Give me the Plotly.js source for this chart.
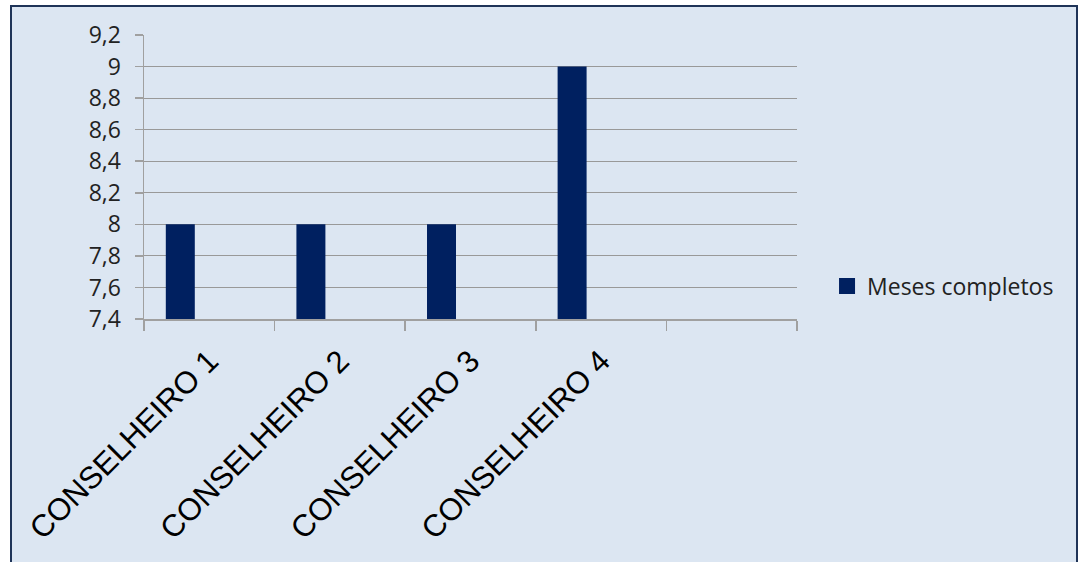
<!DOCTYPE html>
<html>
<head>
<meta charset="utf-8">
<script src="https://cdn.plot.ly/plotly-3.0.1.min.js"></script>
<style>
  html, body { margin: 0; padding: 0; background: #ffffff; width: 1080px; height: 562px; overflow: hidden; }
  #frame { position: absolute; left: 10px; top: 5px; width: 1064px; height: 600px;
           border: 2px solid #1f3458; background: #dce6f2; }
  #chart { position: absolute; left: 0; top: 0; width: 1080px; height: 562px; }
</style>
</head>
<body>
<div id="frame"></div>
<div id="chart"></div>
<script>
const categories = ["CONSELHEIRO 1", "CONSELHEIRO 2", "CONSELHEIRO 3", "CONSELHEIRO 4", " "];
const mesesCompletos = [8, 8, 8, 9, null];
const seriesName = "Meses completos";
const yTicks = [7.4, 7.6, 7.8, 8, 8.2, 8.4, 8.6, 8.8, 9, 9.2];
const seriesColor = "#002060";

const barTrace = {
  type: "bar",
  name: seriesName,
  x: categories,
  y: mesesCompletos,
  width: 0.222,
  offset: -0.333,
  marker: { color: seriesColor, line: { width: 0 } },
  showlegend: false,
  hoverinfo: "skip",
  cliponaxis: true
};

// legend-only entry with a larger square key
const legendTrace = {
  type: "scatter",
  mode: "markers",
  name: seriesName,
  x: [null],
  y: [null],
  marker: { symbol: "square", size: 16, color: seriesColor },
  showlegend: true,
  hoverinfo: "skip"
};

const layout = {
  width: 1080,
  height: 562,
  paper_bgcolor: "rgba(0,0,0,0)",
  plot_bgcolor: "rgba(0,0,0,0)",
  separators: ", ",
  margin: { l: 144, r: 283, t: 35, b: 243, pad: 0 },
  showlegend: true,
  legend: {
    x: 1.046, xanchor: "left",
    y: 0.116, yanchor: "middle",
    bgcolor: "rgba(0,0,0,0)",
    font: { family: "Open Sans, Lato, sans-serif", size: 23, color: "#222222" },
    itemwidth: 30,
    itemsizing: "trace"
  },
  xaxis: {
    type: "category",
    categoryorder: "array",
    categoryarray: categories,
    range: [-0.5, 4.5],
    tickson: "boundaries",
    ticks: "outside",
    ticklen: 10,
    tickcolor: "#a0a0a0",
    tickwidth: 1.5,
    tickangle: -45,
    ticklabelstandoff: 10,
    tickfont: { family: "Liberation Sans, Arial, sans-serif", size: 31, color: "#000000" },
    showline: true,
    linecolor: "#a0a0a0",
    linewidth: 1.5,
    showgrid: false,
    zeroline: false,
    fixedrange: true
  },
  yaxis: {
    range: [7.4, 9.2],
    tickmode: "array",
    tickvals: yTicks,
    ticktext: yTicks.map(v => String(v).replace(".", ",")),
    ticks: "outside",
    ticklen: 8,
    tickcolor: "#a0a0a0",
    tickwidth: 1.5,
    ticklabelstandoff: 9,
    tickfont: { family: "Open Sans, Lato, sans-serif", size: 23, color: "#222222" },
    showline: true,
    linecolor: "#a0a0a0",
    linewidth: 1.5,
    showgrid: true,
    gridcolor: "#999999",
    gridwidth: 1,
    zeroline: false,
    fixedrange: true
  }
};

Plotly.newPlot("chart", [barTrace, legendTrace], layout, { displayModeBar: false, staticPlot: true });
</script>
</body>
</html>
